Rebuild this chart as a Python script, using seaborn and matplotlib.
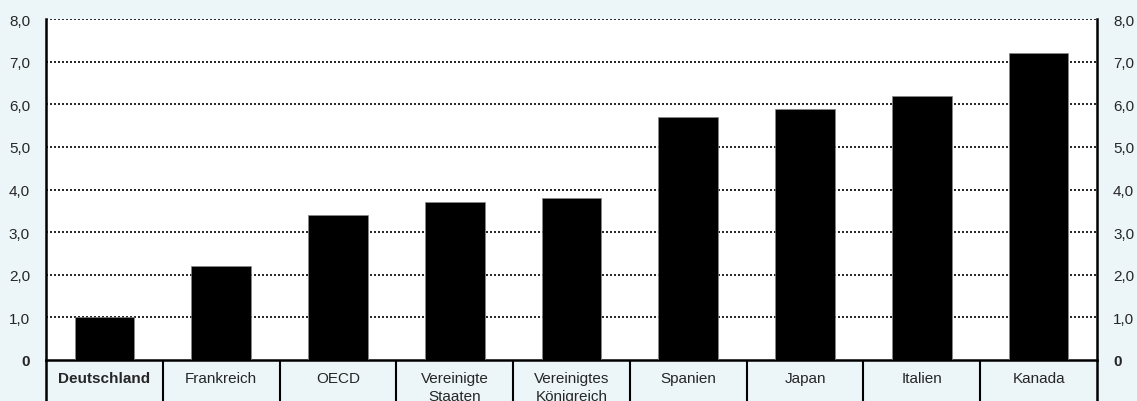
import matplotlib
matplotlib.use("Agg")
import matplotlib.pyplot as plt
import matplotlib.transforms as mtransforms
import seaborn as sns
import pandas as pd

categories = ["Deutschland", "Frankreich", "OECD", "Vereinigte\nStaaten", "Vereinigtes\nKönigreich",
              "Spanien", "Japan", "Italien", "Kanada"]
values = [1.0, 2.2, 3.4, 3.7, 3.8, 5.7, 5.9, 6.2, 7.2]
yticks = [0, 1, 2, 3, 4, 5, 6, 7, 8]
ytick_labels = ["0", "1,0", "2,0", "3,0", "4,0", "5,0", "6,0", "7,0", "8,0"]

sns.set_style("white")
plt.rcParams['font.family'] = ['Liberation Sans', 'DejaVu Sans']

bg = "#ECF5F8"
W, H = 1137, 402
fig = plt.figure(figsize=(W / 100, H / 100), dpi=100, facecolor=bg)
left, right, top, bottom = 46, 1097, 20, 361
ax = fig.add_axes([left / W, (H - bottom) / H, (right - left) / W, (bottom - top) / H])
ax.set_facecolor("white")

df = pd.DataFrame({"cat": categories, "val": values})
sns.barplot(data=df, x="cat", y="val", color="black", width=0.51, ax=ax,
            saturation=1, edgecolor="#888888", linewidth=0.5, zorder=3)

ax.set_xlim(-0.5, len(categories) - 0.5)
ax.set_ylim(0, 8)
ax.set_yticks(yticks)
ax.set_yticklabels(ytick_labels)
ax.tick_params(axis="y", left=False, right=False, labelleft=True, labelright=True,
               labelsize=11, pad=8)
for lbl in ax.get_yticklabels():
    if lbl.get_text() == "0":
        lbl.set_fontweight("bold")
ax.set_xticks([])
ax.set_xlabel("")
ax.set_ylabel("")

for y in yticks[1:]:
    ax.axhline(y, color="black", lw=1.2, ls=(0, (1.2, 1.2)), zorder=1)

for side in ["left", "right", "bottom"]:
    ax.spines[side].set_color("black")
    ax.spines[side].set_linewidth(1.8)
ax.spines["top"].set_visible(False)

trans = mtransforms.blended_transform_factory(ax.transData, ax.transAxes)
ext = -(45 / (bottom - top))
for i in range(len(categories) + 1):
    xb = i - 0.5
    ax.plot([xb, xb], [0, ext], transform=trans, color="black", lw=1.5 if 0 < i < len(categories) else 1.8,
            clip_on=False, solid_capstyle="butt")

for i, c in enumerate(categories):
    ax.text(i, -11 / (bottom - top), c, transform=trans, ha="center", va="top",
            fontsize=11, fontweight="bold" if i == 0 else "normal", linespacing=1.4,
            clip_on=False)

fig.savefig("out.png", dpi=100, facecolor=bg)
